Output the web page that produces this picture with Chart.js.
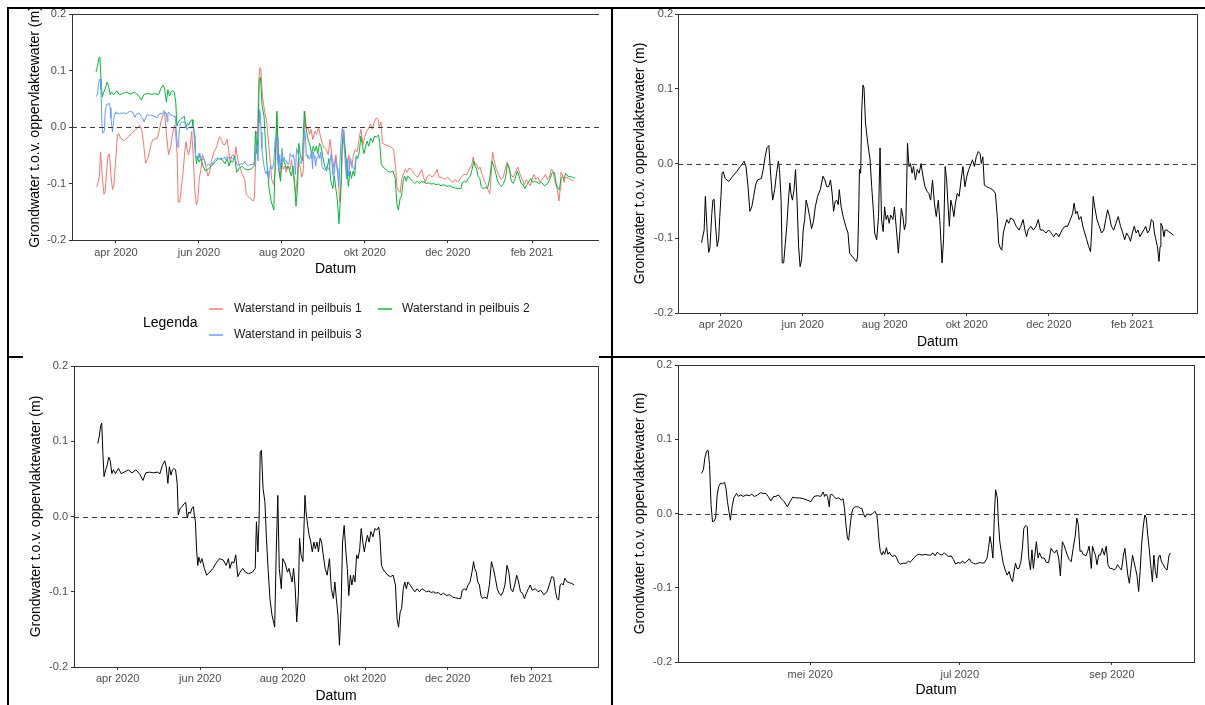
<!DOCTYPE html>
<html>
<head>
<meta charset="utf-8">
<script src="https://cdn.jsdelivr.net/npm/chart.js@4.4.1/dist/chart.umd.min.js"></script>
<style>
html,body{margin:0;padding:0;background:#fff;}
body{width:1205px;height:705px;overflow:hidden;position:relative;}
.ln{position:absolute;background:#000;}
canvas{position:absolute;}
</style>
</head>
<body>
<div class="ln" style="left:7px;top:7px;width:1198px;height:2px"></div>
<div class="ln" style="left:7px;top:7px;width:2px;height:698px"></div>
<div class="ln" style="left:611px;top:7px;width:2px;height:698px"></div>
<div class="ln" style="left:7px;top:356px;width:1198px;height:2px"></div>
<canvas id="c1"></canvas>
<canvas id="c2"></canvas>
<canvas id="c3"></canvas>
<canvas id="c4"></canvas>
<script>
// ---------------- data (days counted from 2020-03-01) ----------------
const DAY0 = '2020-03-01';
const seriesNames = ['Waterstand in peilbuis 1', 'Waterstand in peilbuis 2', 'Waterstand in peilbuis 3'];
const seriesColors = ['#F8766D', '#00BA38', '#619CFF'];
const yTitle = 'Grondwater t.o.v. oppervlaktewater (m)';
const xTitle = 'Datum';
const legendTitle = 'Legenda';
const yTicks = [-0.2, -0.1, 0, 0.1, 0.2];
const tickDatesLong = ['2020-04-01', '2020-06-01', '2020-08-01', '2020-10-01', '2020-12-01', '2021-02-01'];
const tickLabelsLong = ['apr 2020', 'jun 2020', 'aug 2020', 'okt 2020', 'dec 2020', 'feb 2021'];
const tickDatesShort = ['2020-05-01', '2020-07-01', '2020-09-01'];
const tickLabelsShort = ['mei 2020', 'jul 2020', 'sep 2020'];

// peilbuis 1
const p1Days = [
16.9,18.8,19.7,21.1,22.2,23.1,24.5,25.3,26.2,27.3,
28.5,29.6,30.4,31.3,32.1,33.0,34.4,37.2,40.0,42.9,
45.7,48.5,49.9,51.4,52.8,54.2,55.6,57.0,58.4,61.3,
62.7,64.1,65.5,66.9,68.3,69.7,71.2,72.6,74.0,74.8,
76.0,76.8,77.9,79.1,80.2,81.6,82.5,83.3,84.4,85.6,
86.7,87.8,89.0,90.1,91.2,92.4,93.5,94.6,95.8,97.2,
98.6,100.0,101.4,103.1,105.1,107.1,108.5,109.9,111.3,112.7,
113.9,115.0,116.1,117.3,118.4,119.2,120.6,122.1,124.0,125.7,
126.9,129.1,130.5,132.0,132.8,133.7,134.2,135.1,135.9,136.8,
137.6,138.7,140.4,142.1,143.3,144.7,145.5,147.0,148.4,149.5,
150.6,151.8,152.9,154.0,155.1,156.3,157.4,159.1,160.2,161.7,
163.1,164.2,165.3,166.5,167.6,168.7,169.9,171.0,172.1,173.3,
174.4,175.8,177.2,178.6,180.0,181.4,182.9,184.3,185.7,187.1,
188.5,189.9,191.3,192.8,194.2,195.6,196.7,197.9,199.0,199.8,
201.0,202.1,203.2,204.4,205.5,206.9,208.3,209.7,211.1,212.6,
214.0,215.4,216.8,218.2,219.6,221.0,222.5,223.9,224.7,225.9,
227.0,228.7,231.0,233.2,235.2,236.6,237.7,238.9,240.0,241.1,
242.3,243.7,245.1,246.5,248.5,250.7,252.7,254.1,255.8,257.2,
258.4,259.5,261.5,263.5,265.4,267.1,268.6,270.5,272.8,274.8,
276.8,278.5,280.4,282.4,284.7,286.9,288.9,290.9,292.6,293.7,
294.9,296.0,297.4,298.8,300.2,301.6,303.1,304.5,305.9,306.7,
307.9,309.0,310.7,312.4,314.1,315.8,317.2,318.6,320.0,321.4,
323.1,324.8,326.5,328.2,329.9,331.3,332.7,334.4,335.6,337.0,
338.4,339.8,341.2,342.6,344.1,345.5,346.9,348.3,349.7,351.1,
352.5,353.4,354.5,355.6,356.8,357.6,358.2,359.3,360.5,361.3,
362.5,363.9,365.6,367.5];
const p1Vals = [
-0.106,-0.089,-0.044,-0.093,-0.119,-0.113,-0.067,-0.049,-0.048,-0.084,
-0.111,-0.101,-0.071,-0.044,-0.013,-0.011,-0.020,-0.024,-0.017,-0.011,
-0.004,0.003,-0.004,-0.031,-0.064,-0.058,-0.044,-0.029,-0.022,-0.020,
-0.008,0.009,0.021,0.024,-0.017,-0.049,-0.035,-0.013,0.003,-0.008,
-0.049,-0.133,-0.133,-0.107,-0.084,-0.044,-0.026,-0.040,-0.049,-0.035,
-0.008,-0.049,-0.111,-0.138,-0.129,-0.089,-0.075,-0.049,-0.058,-0.071,
-0.087,-0.078,-0.058,-0.044,-0.035,-0.017,-0.022,-0.031,-0.031,-0.022,
-0.040,-0.064,-0.051,-0.049,-0.055,-0.035,-0.058,-0.071,-0.084,-0.093,
-0.120,-0.125,-0.128,-0.131,-0.125,-0.062,-0.008,-0.013,0.072,0.105,
0.101,0.054,0.027,0.005,-0.031,-0.067,-0.093,-0.102,-0.071,0.021,
-0.075,-0.091,-0.058,-0.075,-0.069,-0.080,-0.069,-0.075,-0.058,-0.089,
-0.120,-0.093,-0.060,-0.071,-0.089,-0.080,0.027,-0.004,0.000,-0.013,
-0.004,-0.022,-0.008,-0.013,0.000,-0.017,-0.031,-0.037,-0.040,-0.049,
-0.022,-0.053,-0.071,-0.049,-0.084,-0.133,-0.102,-0.004,-0.022,-0.049,
-0.084,-0.049,-0.058,-0.071,-0.053,-0.040,-0.044,-0.022,-0.004,-0.031,
-0.017,-0.008,-0.002,0.005,-0.004,0.009,0.016,0.013,0.000,0.009,
-0.029,-0.031,-0.033,-0.035,-0.040,-0.071,-0.107,-0.113,-0.116,-0.093,
-0.084,-0.075,-0.080,-0.073,-0.075,-0.084,-0.089,-0.084,-0.075,-0.089,
-0.098,-0.089,-0.084,-0.089,-0.084,-0.075,-0.089,-0.089,-0.093,-0.089,
-0.093,-0.098,-0.093,-0.098,-0.089,-0.084,-0.084,-0.075,-0.067,-0.053,
-0.067,-0.064,-0.075,-0.071,-0.084,-0.093,-0.102,-0.111,-0.118,-0.093,
-0.044,-0.058,-0.075,-0.084,-0.093,-0.089,-0.075,-0.062,-0.071,-0.084,
-0.089,-0.080,-0.071,-0.084,-0.093,-0.102,-0.093,-0.098,-0.104,-0.093,
-0.084,-0.093,-0.089,-0.098,-0.093,-0.089,-0.084,-0.093,-0.089,-0.075,
-0.078,-0.093,-0.102,-0.111,-0.131,-0.111,-0.080,-0.084,-0.098,-0.089,
-0.089,-0.091,-0.093,-0.096];

// peilbuis 2
const p2Days = [
16.3,17.5,18.4,19.2,20.1,20.9,22.1,23.2,24.4,25.5,
26.7,27.8,29.3,31.6,33.6,35.9,38.8,41.6,44.5,47.4,
49.7,51.7,54.6,57.4,60.3,62.3,64.0,65.8,66.9,68.1,
69.2,70.4,71.5,72.7,73.8,75.0,75.8,77.0,78.4,80.1,
81.3,82.4,83.6,84.7,85.9,87.0,87.6,88.5,89.3,90.2,
91.0,92.2,93.3,95.1,96.8,99.1,101.4,103.7,106.3,109.1,
111.2,112.9,114.0,115.5,116.9,118.3,119.8,121.5,123.5,125.5,
127.8,130.7,132.7,133.6,134.7,135.6,136.4,137.3,138.5,139.9,
141.0,142.2,143.6,145.1,147.1,148.2,149.4,150.5,152.0,153.1,
154.8,156.6,157.7,158.8,160.0,161.1,162.3,163.4,164.6,165.5,
166.6,168.0,169.5,170.3,171.5,172.6,173.8,174.9,176.1,177.2,
178.4,179.5,180.7,181.8,183.0,184.4,185.9,187.6,189.0,190.5,
191.6,192.7,193.9,195.0,196.2,197.3,198.5,199.6,200.8,201.9,
203.1,204.2,205.4,206.5,207.7,208.8,210.0,211.1,212.3,213.4,
214.6,215.7,216.9,218.3,219.8,221.2,222.6,224.1,224.9,226.1,
227.5,229.0,230.7,232.7,234.7,236.4,237.6,238.7,239.9,241.0,
242.2,243.3,244.5,245.6,247.3,249.1,250.8,252.5,254.2,256.0,
257.7,259.4,261.1,262.9,264.6,266.3,268.0,270.0,272.0,274.3,
276.6,278.7,280.7,283.0,284.7,285.8,287.3,288.7,290.1,291.6,
293.0,294.2,295.0,296.2,297.3,298.5,299.6,300.8,302.5,304.2,
305.9,307.4,308.8,310.3,311.7,313.1,314.6,316.0,317.4,318.9,
320.3,321.7,323.2,324.6,326.1,327.5,328.9,330.4,331.8,333.2,
334.7,336.1,337.5,339.8,341.9,343.9,346.2,348.5,350.2,351.9,
353.4,354.8,355.9,357.1,358.2,359.4,360.5,361.7,363.4,365.1,
366.9,368.6];
const p2Vals = [
0.097,0.108,0.121,0.124,0.082,0.053,0.062,0.068,0.079,0.074,
0.057,0.062,0.057,0.064,0.057,0.059,0.062,0.058,0.062,0.056,
0.048,0.058,0.059,0.058,0.059,0.057,0.068,0.074,0.066,0.044,
0.066,0.055,0.062,0.064,0.062,0.044,0.002,0.010,0.013,0.017,
0.019,-0.002,0.006,0.004,0.011,0.013,0.002,-0.007,-0.043,-0.065,
-0.054,-0.062,-0.056,-0.069,-0.078,-0.074,-0.069,-0.062,-0.056,-0.058,
-0.065,-0.056,-0.069,-0.060,-0.062,-0.051,-0.080,-0.074,-0.069,-0.074,
-0.076,-0.074,-0.069,-0.007,-0.047,-0.003,0.086,0.088,0.037,0.019,
-0.029,-0.069,-0.109,-0.131,-0.147,-0.051,0.028,-0.069,-0.096,-0.056,
-0.062,-0.074,-0.069,-0.078,-0.087,-0.069,-0.096,-0.140,-0.105,-0.029,
-0.051,-0.060,0.028,0.006,-0.012,-0.025,-0.034,-0.047,-0.034,-0.043,
-0.034,-0.047,-0.029,-0.034,-0.051,-0.069,-0.078,-0.056,-0.096,-0.109,
-0.087,-0.109,-0.131,-0.171,-0.122,-0.034,-0.012,-0.043,-0.069,-0.105,
-0.078,-0.091,-0.078,-0.087,-0.051,-0.056,-0.043,-0.016,-0.034,-0.047,
-0.034,-0.025,-0.034,-0.020,-0.027,-0.016,-0.018,-0.014,-0.027,-0.065,
-0.071,-0.074,-0.078,-0.080,-0.078,-0.091,-0.136,-0.147,-0.127,-0.122,
-0.096,-0.087,-0.096,-0.087,-0.091,-0.096,-0.100,-0.096,-0.100,-0.096,
-0.098,-0.100,-0.099,-0.101,-0.100,-0.102,-0.101,-0.104,-0.102,-0.105,
-0.104,-0.107,-0.108,-0.109,-0.109,-0.098,-0.096,-0.098,-0.091,-0.087,
-0.074,-0.060,-0.069,-0.074,-0.087,-0.091,-0.105,-0.109,-0.107,-0.109,
-0.091,-0.060,-0.069,-0.082,-0.096,-0.102,-0.105,-0.100,-0.091,-0.065,
-0.074,-0.096,-0.100,-0.091,-0.078,-0.087,-0.100,-0.102,-0.109,-0.102,
-0.096,-0.091,-0.098,-0.096,-0.100,-0.098,-0.104,-0.100,-0.091,-0.080,
-0.081,-0.100,-0.109,-0.111,-0.091,-0.089,-0.091,-0.082,-0.087,-0.088,
-0.089,-0.091];

// peilbuis 3
const p3Days = [
16.7,17.5,18.1,18.8,19.4,20.0,20.6,21.2,21.9,22.5,
23.1,23.7,24.5,25.3,26.1,26.7,27.3,27.9,28.5,29.2,
29.9,31.0,31.8,32.6,33.7,34.9,36.2,37.2,38.3,39.6,
40.8,41.9,43.0,43.9,45.0,46.1,47.0,48.1,49.2,50.4,
51.7,52.8,53.9,55.1,56.7,58.2,59.8,61.3,62.6,64.1,
65.3,66.3,66.9,67.5,68.1,68.8,69.2,69.9,70.6,71.6,
72.6,73.7,74.4,75.0,75.6,76.2,76.7,77.2,77.8,78.4,
79.2,79.9,80.7,81.5,82.1,82.7,83.4,84.0,84.8,85.5,
86.5,87.4,88.2,88.6,89.1,89.6,90.2,90.8,91.4,92.1,
92.7,93.3,93.9,94.7,95.5,96.3,97.0,97.8,98.9,100.1,
101.1,101.7,102.5,103.2,104.5,105.6,106.7,107.9,109.1,110.2,
111.0,111.9,112.9,113.8,114.7,115.7,116.6,117.5,118.5,119.4,
120.3,121.3,122.2,123.1,124.1,125.0,125.9,126.5,127.5,128.4,
129.3,130.3,131.2,132.1,133.1,133.7,134.3,134.9,135.5,136.2,
136.6,137.3,137.7,138.3,139.0,139.7,140.5,141.3,142.1,142.8,
143.5,144.1,144.7,145.3,146.1,146.9,147.5,148.1,148.9,149.5,
150.1,150.8,151.4,152.0,152.6,153.2,153.9,154.5,155.4,156.4,
157.3,158.2,159.2,159.9,160.7,161.5,162.3,163.0,163.8,164.4,
165.1,165.8,166.6,167.4,168.2,169.1,169.7,170.3,171.0,171.6,
172.2,172.8,173.4,174.1,174.7,175.1,175.6,176.1,176.7,177.3,
177.9,178.6,179.3,180.1,180.9,181.7,182.4,183.2,184.0,184.8,
185.6,186.3,187.1,187.9,188.7,189.3,189.9,190.5,191.1,191.8,
192.4,193.0,193.6,194.2,194.9,195.5,196.1,196.7,197.4,198.0,
198.6,199.2,199.8,200.5,201.1,201.7,202.3,202.9,203.6,204.2,
205.0,205.7,206.5,207.3,207.9];
const p3Vals = [
0.054,0.059,0.075,0.084,0.085,0.066,0.012,-0.011,-0.010,-0.006,
0.025,0.036,0.041,0.040,0.042,0.034,0.016,0.003,-0.009,0.009,
0.021,0.027,0.023,0.025,0.023,0.025,0.024,0.026,0.023,0.025,
0.028,0.027,0.027,0.023,0.017,0.023,0.023,0.025,0.020,0.016,
0.009,0.016,0.022,0.021,0.021,0.020,0.018,0.016,0.023,0.024,
0.023,0.029,0.023,0.026,0.023,0.009,0.025,0.026,0.023,0.020,
0.021,0.018,0.020,0.007,-0.015,-0.033,-0.036,-0.020,-0.002,0.006,
0.009,0.009,0.009,0.007,0.007,0.000,-0.005,-0.001,-0.001,-0.002,
0.000,0.003,-0.002,-0.015,-0.038,-0.051,-0.056,-0.051,-0.055,-0.046,
-0.055,-0.052,-0.056,-0.058,-0.056,-0.060,-0.066,-0.068,-0.067,-0.067,
-0.064,-0.066,-0.063,-0.060,-0.056,-0.055,-0.056,-0.055,-0.056,-0.056,
-0.053,-0.057,-0.052,-0.055,-0.056,-0.053,-0.056,-0.058,-0.057,-0.062,
-0.068,-0.066,-0.067,-0.064,-0.067,-0.064,-0.061,-0.065,-0.067,-0.068,
-0.067,-0.066,-0.067,-0.066,-0.060,-0.047,-0.031,-0.042,-0.060,0.007,
0.032,0.021,-0.009,-0.038,-0.053,-0.067,-0.076,-0.083,-0.078,-0.087,
-0.092,-0.078,-0.067,-0.074,-0.074,-0.065,-0.047,-0.020,-0.016,-0.018,
-0.060,-0.076,-0.049,-0.074,-0.056,-0.038,-0.060,-0.053,-0.060,-0.060,
-0.066,-0.066,-0.047,-0.051,-0.053,-0.049,-0.060,-0.084,-0.038,-0.042,
-0.049,-0.056,-0.062,-0.065,-0.047,-0.029,-0.006,-0.015,-0.051,-0.050,
-0.055,-0.056,-0.057,-0.051,-0.044,-0.056,-0.074,-0.044,-0.051,-0.056,
-0.069,-0.056,-0.056,-0.047,-0.056,-0.044,-0.069,-0.074,-0.074,-0.076,
-0.074,-0.069,-0.073,-0.076,-0.056,-0.047,-0.065,-0.083,-0.094,-0.074,
-0.056,-0.065,-0.074,-0.083,-0.105,-0.078,-0.042,-0.020,-0.002,-0.006,
-0.029,-0.047,-0.069,-0.092,-0.056,-0.078,-0.087,-0.060,-0.056,-0.065,
-0.069,-0.074,-0.076,-0.056,-0.053];

// ---------------- helpers ----------------
const FONT = "'Liberation Sans', Arial, Helvetica, sans-serif";
const dayOf = s => (Date.parse(s) - Date.parse(DAY0)) / 86400000;
const toPoints = (d, v) => d.map((x, i) => ({x: x, y: v[i]}));
const TICK_PX = 11, TITLE_PX = 14, TL = 3;

const ggPlugin = {
  id: 'gg',
  beforeDraw(chart, args, o) {
    if (o.bg) {
      const c = chart.ctx; c.save(); c.fillStyle = o.bg; c.fillRect(0, 0, chart.width, chart.height); c.restore();
    }
  },
  afterDatasetsDraw(chart) {
    const c = chart.ctx, a = chart.chartArea, py = Math.round(chart.scales.y.getPixelForValue(0)) + 0.5;
    c.save();
    c.strokeStyle = '#3a3a3a'; c.lineWidth = 1; c.setLineDash([5, 4]);
    c.beginPath(); c.moveTo(a.left, py); c.lineTo(a.right, py); c.stroke();
    c.restore();
  },
  afterDraw(chart, args, o) {
    const c = chart.ctx, a = chart.chartArea;
    c.save();
    c.strokeStyle = '#333333'; c.lineWidth = 1;
    c.strokeRect(Math.round(a.left) + 0.5, Math.round(a.top) + 0.5, Math.round(a.right - a.left), Math.round(a.bottom - a.top));
    if (o.legend) {
      const L = o.legend;
      c.textBaseline = 'middle'; c.textAlign = 'left'; c.fillStyle = '#000';
      c.font = TITLE_PX + 'px ' + FONT;
      c.fillText(L.title, L.titleX, L.titleY);
      c.font = '12px ' + FONT;
      chart.data.datasets.forEach((ds, i) => {
        const it = L.items[i];
        c.strokeStyle = ds.borderColor; c.lineWidth = 1.4;
        c.beginPath(); c.moveTo(it.kx, it.y); c.lineTo(it.kx + L.keyW, it.y); c.stroke();
        c.fillStyle = '#1a1a1a';
        c.fillText(ds.label, it.tx, it.y);
      });
    }
    c.restore();
  }
};

function makePanel(id, p) {
  const cv = document.getElementById(id);
  cv.width = p.w; cv.height = p.h;
  cv.style.left = p.x + 'px'; cv.style.top = p.y + 'px';
  cv.style.width = p.w + 'px'; cv.style.height = p.h + 'px';
  const tickLH = TICK_PX * 1.2, titleLH = TITLE_PX * 1.2;
  const yW = p.L - p.x, padTop = p.T - p.y, padRight = p.x + p.w - p.R;
  const xH = p.axisBottom - p.B, padBottom = p.y + p.h - p.axisBottom;
  let lo = Infinity, hi = -Infinity;
  p.datasets.forEach(ds => ds.data.forEach(pt => { lo = Math.min(lo, pt.x); hi = Math.max(hi, pt.x); }));
  const ext = (hi - lo) * 0.05;
  const tickDays = p.tickDates.map(dayOf);
  return new Chart(cv, {
    type: 'line',
    data: {datasets: p.datasets},
    plugins: [ggPlugin],
    options: {
      responsive: false, animation: false, devicePixelRatio: 1,
      layout: {padding: {left: 0, top: padTop, right: padRight, bottom: padBottom}},
      elements: {point: {radius: 0, hoverRadius: 0}, line: {tension: 0, borderJoinStyle: 'round'}},
      plugins: {legend: {display: false}, tooltip: {enabled: false}, gg: {bg: p.bg || null, legend: p.legend || null}},
      events: [],
      scales: {
        x: {
          type: 'linear', position: 'bottom', min: lo - ext, max: hi + ext,
          grid: {drawOnChartArea: false, drawTicks: true, tickLength: TL, color: '#333333', tickWidth: 1},
          border: {display: false},
          ticks: {autoSkip: false, maxRotation: 0, color: '#4d4d4d', font: {family: FONT, size: TICK_PX},
            padding: p.xLabelY - p.B - TL - tickLH / 2,
            callback: (v, i) => p.tickLabels[i]},
          afterBuildTicks: s => { s.ticks = tickDays.map(v => ({value: v})); },
          afterFit: s => { s.height = xH; s.paddingLeft = 0; s.paddingRight = 0; },
          title: {display: true, text: xTitle, color: '#000', font: {family: FONT, size: TITLE_PX},
            padding: {top: 0, bottom: p.axisBottom - p.xTitleY - titleLH / 2}}
        },
        y: {
          type: 'linear', position: 'left', min: -0.2, max: 0.2,
          grid: {drawOnChartArea: false, drawTicks: true, tickLength: TL, color: '#333333', tickWidth: 1},
          border: {display: false},
          ticks: {color: '#4d4d4d', font: {family: FONT, size: TICK_PX}, padding: p.yLabelGap - TL,
            callback: v => (Math.round(v * 10) / 10).toFixed(1)},
          afterBuildTicks: s => { s.ticks = yTicks.map(v => ({value: v})); },
          afterFit: s => { s.width = yW; s.paddingTop = 0; s.paddingBottom = 0; },
          title: {display: true, text: yTitle, color: '#000', font: {family: FONT, size: TITLE_PX},
            padding: {top: p.yTitleX - p.x - titleLH / 2, bottom: 0}}
        }
      }
    }
  });
}

const lineDs = (label, days, vals, color, order) => ({
  label: label, data: toPoints(days, vals), borderColor: color, backgroundColor: color,
  borderWidth: 1, fill: false, order: order, pointRadius: 0
});

// Panel 1: all three wells
makePanel('c1', {
  x: 23, y: 9, w: 576, h: 350, bg: '#ffffff',
  L: 72, T: 14, R: 599, B: 240, axisBottom: 280,
  xLabelY: 253, xTitleY: 269, yTitleX: 35, yLabelGap: 6,
  tickDates: tickDatesLong, tickLabels: tickLabelsLong,
  datasets: [
    lineDs(seriesNames[0], p1Days, p1Vals, seriesColors[0], 3),
    lineDs(seriesNames[1], p2Days, p2Vals, seriesColors[1], 2),
    lineDs(seriesNames[2], p3Days, p3Vals, seriesColors[2], 1)
  ],
  legend: {title: legendTitle, titleX: 120, titleY: 314, keyW: 14,
    items: [{kx: 186, tx: 211, y: 300}, {kx: 355, tx: 379, y: 300}, {kx: 186, tx: 211, y: 326}]}
});

// Panel 2: peilbuis 1
makePanel('c2', {
  x: 614, y: 9, w: 591, h: 346,
  L: 678, T: 14, R: 1197, B: 313, axisBottom: 355,
  xLabelY: 325, xTitleY: 342, yTitleX: 640, yLabelGap: 5,
  tickDates: tickDatesLong, tickLabels: tickLabelsLong,
  datasets: [lineDs(seriesNames[0], p1Days, p1Vals, '#000000', 1)]
});

// Panel 3: peilbuis 2
makePanel('c3', {
  x: 10, y: 359, w: 600, h: 346,
  L: 74, T: 366, R: 598, B: 667, axisBottom: 705,
  xLabelY: 679, xTitleY: 696, yTitleX: 36, yLabelGap: 6,
  tickDates: tickDatesLong, tickLabels: tickLabelsLong,
  datasets: [lineDs(seriesNames[1], p2Days, p2Vals, '#000000', 1)]
});

// Panel 4: peilbuis 3
makePanel('c4', {
  x: 614, y: 359, w: 591, h: 346,
  L: 678, T: 365, R: 1194, B: 662, axisBottom: 705,
  xLabelY: 675, xTitleY: 690, yTitleX: 640, yLabelGap: 6,
  tickDates: tickDatesShort, tickLabels: tickLabelsShort,
  datasets: [lineDs(seriesNames[2], p3Days, p3Vals, '#000000', 1)]
});
</script>
</body>
</html>
